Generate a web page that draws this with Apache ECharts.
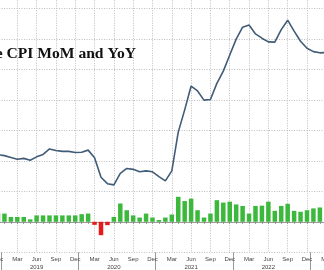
<!DOCTYPE html>
<html><head><meta charset="utf-8">
<script src="https://cdn.jsdelivr.net/npm/echarts@6/dist/echarts.min.js"></script>
<style>html,body{margin:0;padding:0;background:#fff}#c{width:324px;height:270px}</style>
</head><body><div id="c"></div>
<script>
// Months Nov 2018 .. Mar 2023
const months = [];
(function(){const n=['Jan','Feb','Mar','Apr','May','Jun','Jul','Aug','Sep','Oct','Nov','Dec'];
  let y=2018,m=10; for(let i=0;i<53;i++){months.push(n[m]+' '+y); m++; if(m===12){m=0;y++;}}})();

const yoy = [2.2,2.2,2.17,2.11,2.05,2.08,2.02,2.13,2.21,2.39,2.34,2.31,2.31,2.27,
  2.28,2.35,2.10,1.46,1.25,1.21,1.59,1.75,1.72,1.64,1.67,1.64,
  1.48,1.34,1.67,2.94,3.67,4.45,4.29,3.99,4.01,4.54,4.94,5.47,
  5.99,6.38,6.45,6.16,6.02,5.90,5.89,6.30,6.61,6.25,5.92,5.69,
  5.58,5.54,5.55];
const mom = [0.2,0.27,0.27,0.16,0.16,0.16,0.08,0.21,0.21,0.21,0.21,0.21,0.21,0.21,
  0.25,0.27,-0.10,-0.44,-0.11,0.16,0.60,0.38,0.21,0.14,0.27,0.14,
  0.06,0.14,0.24,0.82,0.68,0.76,0.38,0.14,0.27,0.71,0.63,0.66,
  0.57,0.52,0.27,0.52,0.53,0.66,0.36,0.52,0.59,0.36,0.33,0.38,
  0.44,0.47,0.40];
const quarterMonths = ['Mar','Jun','Sep','Dec'];
const yearTicks = [1.5,13.5,25.5,37.5,49.5];
const yearLabelPos = [7,19,31,43];
const yearLabels = ['2019','2020','2021','2022'];
const title = 'Core CPI MoM and YoY';

const isQ = (i)=> quarterMonths.indexOf(months[i].slice(0,3))>=0;
const chart = echarts.init(document.getElementById('c'), null, {renderer:'canvas'});
chart.setOption({
  animation:false,
  backgroundColor:'#fff',
  grid:{left:-8.44,right:-2.3,top:-22.2,bottom:17.7,containLabel:false,outerBoundsMode:'none'},
  xAxis:[{
    type:'category', data:months, boundaryGap:false,
    axisLine:{lineStyle:{color:'#9a9a9a',width:1}},
    axisTick:{show:true,interval:0,length:2,lineStyle:{color:'#888'}},
    axisLabel:{interval:(i)=>isQ(i), formatter:(v)=>v.slice(0,3), fontSize:6, color:'#444', margin:4, fontFamily:'Liberation Sans'},
    splitLine:{show:true, interval:(i)=>isQ(i), lineStyle:{color:'#bdbdbd',type:[1,1.5],width:1}}
  },{
    type:'value', min:0, max:52, position:'bottom', gridIndex:0,
    axisLine:{show:false}, splitLine:{show:false},
    axisTick:{show:true, customValues:yearTicks, length:18, lineStyle:{color:'#999'}},
    axisLabel:{customValues:yearLabelPos, formatter:(v)=>yearLabels[yearLabelPos.indexOf(Math.round(v))]||'', fontSize:6, color:'#444', margin:12, fontFamily:'Liberation Sans'}
  }],
  yAxis:{type:'value', min:-1, max:8, interval:1,
    axisLabel:{show:false}, axisLine:{show:false}, axisTick:{show:false},
    splitLine:{show:true, lineStyle:{color:'#bdbdbd',type:[1,1.5],width:1}}},
  series:[{
    type:'bar', data:mom, barWidth:4.5,
    itemStyle:{color:(p)=>p.value<0?'#e31b1b':'#3cb93c'}
  },{
    type:'line', data:yoy, symbol:'none', lineStyle:{color:'#405c76',width:1.6}, z:5
  }],
  graphic:[{type:'text', left:-30, top:46, z:10,
    style:{text:title, font:'bold 15.6px "Liberation Serif"', fill:'#111',
      shadowColor:'rgba(0,0,0,0.45)', shadowBlur:2, shadowOffsetX:2, shadowOffsetY:2}}]
});
</script></body></html>
